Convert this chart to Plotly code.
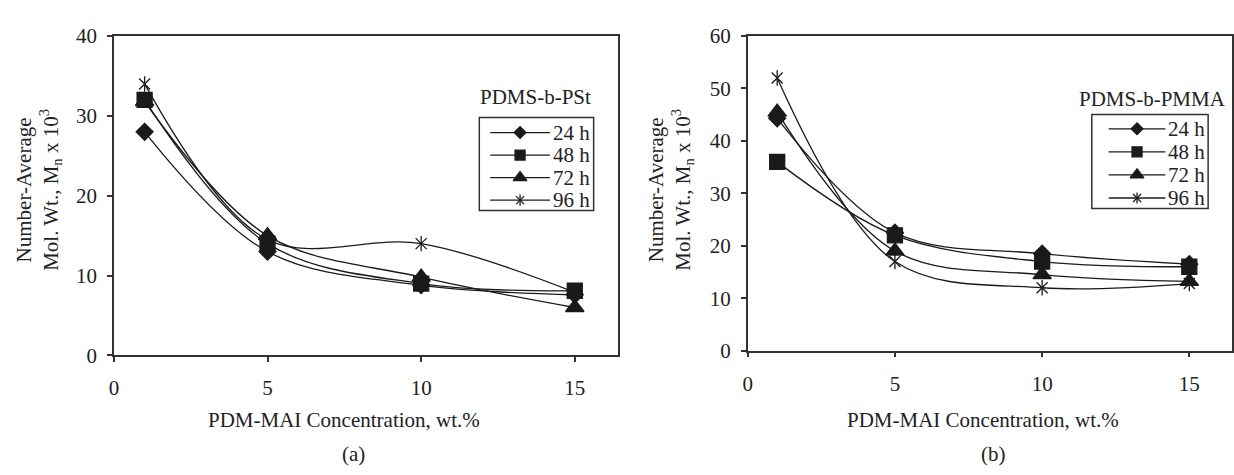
import plotly.graph_objects as go

# PDM-MAI concentration (wt.%)
conc = [1, 5, 10, 15]

# Number-average molecular weight, Mn x 10^3 -- PDMS-b-PSt
pst_24h = [28.0, 13.0, 8.8, 7.6]
pst_48h = [32.0, 14.0, 9.0, 8.1]
pst_72h = [31.8, 15.0, 9.8, 6.0]
pst_96h = [34.0, 14.5, 14.0, 7.9]

# Number-average molecular weight, Mn x 10^3 -- PDMS-b-PMMA
pmma_24h = [44.3, 22.5, 18.5, 16.5]
pmma_48h = [36.0, 22.0, 17.0, 16.0]
pmma_72h = [45.5, 19.0, 14.5, 13.2]
pmma_96h = [52.0, 17.0, 12.0, 12.8]

series_names = ["24 h", "48 h", "72 h", "96 h"]
x_ticks = [0, 5, 10, 15]

W, H = 1234, 475
FONT = "Liberation Serif"
INK = "#1a1a1a"
TXT = "#222222"
FRAME = "#333333"

def px(x):
    return x / W

def py(y):
    return 1 - y / H

# marker symbol and size per series (data size, legend-key size)
marker_styles = [
    dict(symbol="diamond", size=13, key=9),
    dict(symbol="square", size=15, key=10),
    dict(symbol="triangle-up", size=16, key=12),
    dict(symbol="x-thin-open", size=11, key=8),
]

fig = go.Figure()

def add_markers(x, y, ms, size, xa, ya):
    fig.add_trace(go.Scatter(
        x=x, y=y, mode="markers", showlegend=False, hoverinfo="skip",
        xaxis=xa, yaxis=ya,
        marker=dict(symbol=ms["symbol"], size=size, color=INK,
                    line=dict(color=INK, width=1.3)),
    ))
    if ms["symbol"].startswith("x-thin"):
        # vertical stroke completing the six-armed star marker
        fig.add_trace(go.Scatter(
            x=x, y=y, mode="markers", showlegend=False, hoverinfo="skip",
            xaxis=xa, yaxis=ya,
            marker=dict(symbol="line-ns-open", size=size, color=INK,
                        line=dict(color=INK, width=1.3)),
        ))

def add_panel(ys, xa, ya):
    for name, yv, ms in zip(series_names, ys, marker_styles):
        fig.add_trace(go.Scatter(
            x=conc, y=yv, name=name, mode="lines", showlegend=False,
            xaxis=xa, yaxis=ya,
            line=dict(color=INK, width=1.3, shape="spline", smoothing=1.0),
        ))
        add_markers(conc, yv, ms, ms["size"], xa, ya)

add_panel([pst_24h, pst_48h, pst_72h, pst_96h], "x", "y")
add_panel([pmma_24h, pmma_48h, pmma_72h, pmma_96h], "x2", "y2")

shapes = []
annotations = []

def text(t, x, y, size=21, anchor="center"):
    annotations.append(dict(
        text=t, x=px(x), y=py(y), xref="paper", yref="paper",
        showarrow=False, xanchor=anchor, yanchor="middle",
        font=dict(family=FONT, size=size, color=TXT)))

# Boxed key: heading above, one row per series (pixel layout on overlay axes)
def add_key(heading, head_xy, left, top, right, bottom,
            row0, row_step, line_x0, line_x1, text_x):
    text(heading, *head_xy)
    shapes.append(dict(type="rect", xref="paper", yref="paper",
                       x0=px(left), x1=px(right), y0=py(bottom), y1=py(top),
                       line=dict(color=FRAME, width=1.5), layer="below"))
    for i, (name, ms) in enumerate(zip(series_names, marker_styles)):
        ry = top + row0 + i * row_step
        shapes.append(dict(type="line", xref="paper", yref="paper",
                           x0=px(left + line_x0), x1=px(left + line_x1),
                           y0=py(ry), y1=py(ry),
                           line=dict(color=INK, width=1.3), layer="below"))
        add_markers([left + (line_x0 + line_x1) / 2], [ry], ms, ms["key"],
                    "x3", "y3")
        text(name, left + text_x, ry, anchor="left")

add_key("PDMS-b-PSt", (534, 89), 477, 111, 592, 209,
        16, 23.7, 11, 71, 72)
add_key("PDMS-b-PMMA", (1154, 92), 1093, 108, 1210, 207,
        15, 24.3, 17, 74, 75)

# axis titles and panel labels
ytitle = "Number-Average<br>Mol. Wt., M<sub>n</sub> x 10<sup>3</sup>"
for xc in (33.5, 669):
    annotations.append(dict(
        text=ytitle, x=px(xc), y=py(187), xref="paper", yref="paper",
        showarrow=False, xanchor="center", yanchor="middle", textangle=-90,
        font=dict(family=FONT, size=21, color=TXT)))
text("PDM-MAI Concentration, wt.%", 341, 430)
text("PDM-MAI Concentration, wt.%", 984, 430)
text("(a)", 350, 465)
text("(b)", 994, 465)

axis_common = dict(
    showline=True, linecolor=FRAME, linewidth=1.5, mirror=True,
    showgrid=False, zeroline=False, ticks="outside", ticklen=5,
    tickcolor=FRAME, tickwidth=1.5,
    tickfont=dict(family=FONT, size=21, color=TXT),
)

fig.update_layout(
    width=W, height=H,
    margin=dict(l=0, r=0, t=0, b=0),
    paper_bgcolor="white", plot_bgcolor="rgba(0,0,0,0)",
    showlegend=False,
    xaxis=dict(domain=[px(109.5), px(616)], range=[0, 16.39],
               tickvals=x_ticks, anchor="y", ticklabelstandoff=8,
               **axis_common),
    yaxis=dict(domain=[py(361.7), py(25.3)], range=[0, 40], dtick=10,
               anchor="x", ticklabelstandoff=6, **axis_common),
    xaxis2=dict(domain=[px(747), 1.0], range=[0, 16.45],
                tickvals=x_ticks, anchor="y2", ticklabelstandoff=8,
                **axis_common),
    yaxis2=dict(domain=[py(356.7), py(25.3)], range=[0, 60], dtick=10,
                anchor="x2", ticklabelstandoff=6, **axis_common),
    # full-page pixel axes used only for the key glyphs
    xaxis3=dict(domain=[0, 1], range=[0, W], visible=False, anchor="y3",
                fixedrange=True),
    yaxis3=dict(domain=[0, 1], range=[H, 0], visible=False, anchor="x3",
                fixedrange=True),
    shapes=shapes,
    annotations=annotations,
)

fig.write_html("out.html")
